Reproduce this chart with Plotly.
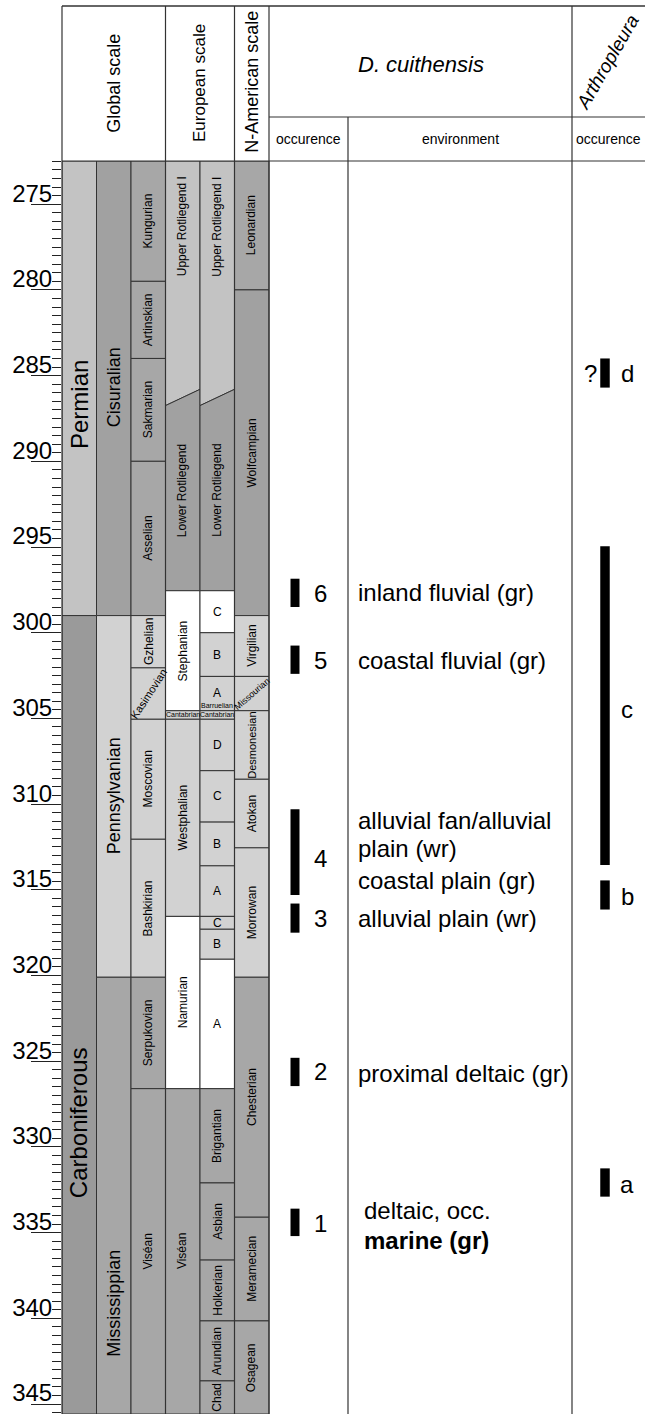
import plotly.graph_objects as go

FONT = "Liberation Sans, Arial, Helvetica, sans-serif"
LINE = "#333333"

# ---------------- data (ages in Ma) ----------------
TOP_MA = 272.48
BOT_MA = 345.58
tick_vals = [275, 280, 285, 290, 295, 300, 305, 310, 315, 320, 325, 330, 335, 340, 345]
tick_text = [str(v) for v in tick_vals]

# Global scale
period_names = ["Permian", "Carboniferous"]
period_base = [299.0, BOT_MA]
epoch_names = ["Cisuralian", "Pennsylvanian", "Mississippian"]
epoch_base = [299.0, 320.1, BOT_MA]
stage_names = ["Kungurian", "Artinskian", "Sakmarian", "Asselian", "Gzhelian",
               "Kasimovian", "Moscovian", "Bashkirian", "Serpukovian", "Viséan"]
stage_base = [279.5, 284.0, 290.0, 299.0, 302.05, 305.05, 312.05, 320.1, 326.6, BOT_MA]

# European scale (Rotliegend boundary is oblique: left / right ages)
rotl_left = 286.75
rotl_right = 285.8
lower_rotl_base = 297.55
euro1_names = ["Stephanian", "Cantabrian", "Westphalian", "Namurian", "Viséan"]
euro1_base = [304.55, 305.05, 316.55, 326.6, BOT_MA]
euro2_names = ["C", "B", "A", "Cantabrian", "D", "C", "B", "A", "C", "B", "A",
               "Brigantian", "Asbian", "Holkerian", "Arundian", "Chad"]
euro2_base = [300.0, 302.55, 304.55, 305.05, 308.05, 311.05, 313.6, 316.55, 317.3,
              319.05, 326.6, 332.1, 336.6, 340.15, 343.65, BOT_MA]

# N-American scale
namer_names = ["Leonardian", "Wolfcampian", "Virgilian", "Missourian", "Desmonesian",
               "Atokan", "Morrowan", "Chesterian", "Meramecian", "Osagean"]
namer_base = [280.0, 299.0, 302.55, 304.55, 308.55, 312.55, 320.1, 334.1, 340.15, BOT_MA]

# D. cuithensis occurrences
dc_labels = ["6", "5", "4", "3", "2", "1"]
dc_top = [296.85, 300.75, 310.3, 315.8, 324.8, 333.6]
dc_base = [298.5, 302.4, 315.3, 317.5, 326.45, 335.2]
dc_label_age = [297.7, 301.6, 313.2, 316.65, 325.6, 334.45]
env_texts = ["inland fluvial (gr)", "coastal fluvial (gr)", "alluvial fan/alluvial",
             "plain (wr)", "coastal plain (gr)", "alluvial plain (wr)",
             "proximal deltaic (gr)", "deltaic, occ.", "<b>marine (gr)</b>"]
env_age = [297.68, 301.6, 310.93, 312.6, 314.45, 316.66, 325.7, 333.7, 335.45]

# Arthropleura occurrences
ar_labels = ["d", "c", "b", "a"]
ar_top = [284.0, 294.95, 314.45, 331.25]
ar_base = [285.7, 313.55, 316.15, 332.9]
ar_label_age = [284.85, 304.5, 315.4, 332.2]

# ---------------- styles ----------------
C_PERM = "#c3c3c3"
C_MED = "#a7a7a7"
C_DARK = "#a1a1a1"
C_CARB = "#9a9a9a"
C_LIGHT = "#d2d2d2"
C_WHITE = "#ffffff"

period_fill = [C_PERM, C_CARB]
epoch_fill = [C_DARK, C_LIGHT, C_MED]
stage_fill = [C_MED, C_MED, C_MED, C_MED, C_LIGHT, C_LIGHT, C_LIGHT, C_LIGHT, C_MED, C_MED]
euro1_fill = [C_WHITE, C_LIGHT, C_LIGHT, C_WHITE, C_MED]
euro2_fill = [C_WHITE, C_LIGHT, C_LIGHT, C_LIGHT, C_LIGHT, C_LIGHT, C_LIGHT, C_LIGHT,
              C_LIGHT, C_LIGHT, C_WHITE, C_MED, C_MED, C_MED, C_MED, C_MED]
namer_fill = [C_MED, C_DARK, C_LIGHT, C_LIGHT, C_LIGHT, C_LIGHT, C_LIGHT, C_MED, C_MED, C_MED]

# column edges (px == x data units)
XC = [62, 96.5, 131, 165.5, 200, 234.5, 269]
X_OCC_R = 348
X_ENV_R = 572
X_RIGHT = 645

W, H = 645, 1414
MT = 161
PH = H - MT


def hy(px):
    return 1 + (MT - px) / PH


def hx(px):
    return (px - 62) / (X_RIGHT - 62)


shapes = []
annots = []

# special label styles: name -> (angle, size)
horiz12 = {"A", "B", "C", "D"}
special = {"Cantabrian": (0, 7), "Kasimovian": (-57, 11), "Missourian": (-41, 9),
           "Desmonesian": (-90, 11)}


def add_label(text, x, y, angle=-90, size=12):
    annots.append(dict(x=x, y=y, xref="x", yref="y", text=text, showarrow=False,
                       textangle=angle, font=dict(family=FONT, size=size, color="black"),
                       xanchor="center", yanchor="middle"))


def column(names, bases, fills, x0, x1, top=TOP_MA, size=12, overrides=None):
    prev = top
    for i, (n, b) in enumerate(zip(names, bases)):
        shapes.append(dict(type="rect", xref="x", yref="y", x0=x0, x1=x1, y0=prev, y1=b,
                           fillcolor=fills[i], line=dict(color=LINE, width=1), layer="below"))
        if n in horiz12:
            ang, sz = 0, 12
        elif n in special:
            ang, sz = special[n]
        else:
            ang, sz = -90, size
        ymid = (prev + b) / 2
        if overrides and i in overrides:
            ymid = overrides[i]
        add_label(n, (x0 + x1) / 2, ymid, ang, sz)
        prev = b


column(period_names, period_base, period_fill, XC[0], XC[1], size=24,
       overrides={0: 286.7, 1: 328.6})
column(epoch_names, epoch_base, epoch_fill, XC[1], XC[2], size=18,
       overrides={0: 285.7, 1: 309.5, 2: 339.1})
column(stage_names, stage_base, stage_fill, XC[2], XC[3])
column(namer_names, namer_base, namer_fill, XC[5], XC[6])

# European scale: oblique Rotliegend boundary
for (x0, x1) in [(XC[3], XC[4]), (XC[4], XC[5])]:
    shapes.append(dict(type="path", xref="x", yref="y",
                       path=f"M {x0},{TOP_MA} L {x1},{TOP_MA} L {x1},{rotl_right} L {x0},{rotl_left} Z",
                       fillcolor=C_PERM, line=dict(color=LINE, width=1), layer="below"))
    shapes.append(dict(type="path", xref="x", yref="y",
                       path=f"M {x0},{rotl_left} L {x1},{rotl_right} L {x1},{lower_rotl_base} L {x0},{lower_rotl_base} Z",
                       fillcolor=C_DARK, line=dict(color=LINE, width=1), layer="below"))
    add_label("Upper Rotliegend I", (x0 + x1) / 2, 276.3)
    add_label("Lower Rotliegend", (x0 + x1) / 2, 291.7)

column(euro1_names, euro1_base, euro1_fill, XC[3], XC[4], top=lower_rotl_base)
column(euro2_names, euro2_base, euro2_fill, XC[4], XC[5], top=lower_rotl_base,
       overrides={2: 303.5})
add_label("Barruelian", (XC[4] + XC[5]) / 2, 304.25, 0, 7)

# body vertical lines
for xv in [X_OCC_R, X_ENV_R]:
    shapes.append(dict(type="line", xref="paper", yref="paper", x0=hx(xv), x1=hx(xv),
                       y0=0, y1=hy(117) if xv == X_OCC_R else hy(6),
                       line=dict(color=LINE, width=1.2)))
# header lines
for xv in [XC[0], XC[3], XC[5], XC[6]]:
    shapes.append(dict(type="line", xref="paper", yref="paper", x0=hx(xv), x1=hx(xv),
                       y0=0, y1=hy(6), line=dict(color=LINE, width=1.2)))
shapes.append(dict(type="line", xref="paper", yref="paper", x0=hx(XC[0]), x1=1,
                   y0=hy(6), y1=hy(6), line=dict(color=LINE, width=1.5)))
shapes.append(dict(type="line", xref="paper", yref="paper", x0=hx(XC[6]), x1=1,
                   y0=hy(117), y1=hy(117), line=dict(color=LINE, width=1.2)))
shapes.append(dict(type="line", xref="paper", yref="paper", x0=hx(XC[0]), x1=1,
                   y0=1, y1=1, line=dict(color=LINE, width=1.2)))


def head(text, xpx, ypx, size, angle=0):
    annots.append(dict(x=hx(xpx), y=hy(ypx), xref="paper", yref="paper", text=text,
                       showarrow=False, textangle=angle,
                       font=dict(family=FONT, size=size, color="black"),
                       xanchor="center", yanchor="middle"))


head("Global scale", (XC[0] + XC[3]) / 2, 83, 18, -90)
head("European scale", (XC[3] + XC[5]) / 2, 83, 17, -90)
head("N-American scale", (XC[5] + XC[6]) / 2, 82, 18, -90)
head("<i>D. cuithensis</i>", (XC[6] + X_ENV_R) / 2, 65, 22)
head("<i>Arthropleura</i>", 608, 62, 19, -60)
head("occurence", (XC[6] + X_OCC_R) / 2, 139, 14)
head("environment", (X_OCC_R + X_ENV_R) / 2, 139, 14)
head("occurence", (X_ENV_R + X_RIGHT) / 2, 139, 14)

# occurrence bars
fig = go.Figure()
fig.add_trace(go.Bar(x=[295] * len(dc_top), base=dc_top,
                     y=[b - t for t, b in zip(dc_top, dc_base)],
                     width=9, marker=dict(color="black", line=dict(width=0)),
                     hoverinfo="skip", showlegend=False))
fig.add_trace(go.Bar(x=[605] * len(ar_top), base=ar_top,
                     y=[b - t for t, b in zip(ar_top, ar_base)],
                     width=9.5, marker=dict(color="black", line=dict(width=0)),
                     hoverinfo="skip", showlegend=False))

for lab, a in zip(dc_labels, dc_label_age):
    add_label(lab, 320, a, 0, 24)
for lab, a in zip(ar_labels, ar_label_age):
    add_label(lab, 627, a, 0, 24)
add_label("?", 590, ar_label_age[0], 0, 24)
for i, (t, a) in enumerate(zip(env_texts, env_age)):
    xl = 362 if i >= 7 else 356
    annots.append(dict(x=xl, y=a, xref="x", yref="y", text=t, showarrow=False,
                       xanchor="left", yanchor="middle",
                       font=dict(family=FONT, size=24, color="black")))

fig.update_layout(
    width=W, height=H, margin=dict(l=62, r=0, t=MT, b=0, pad=0),
    paper_bgcolor="white", plot_bgcolor="white",
    barmode="overlay", shapes=shapes, annotations=annots, showlegend=False,
    xaxis=dict(range=[62, X_RIGHT], visible=False, fixedrange=True),
    yaxis=dict(range=[BOT_MA, TOP_MA], tickmode="array", tickvals=tick_vals,
               ticktext=tick_text, ticks="outside", ticklen=30, tickwidth=1,
               tickcolor="#222222", showgrid=False, zeroline=False, showline=False,
               tickfont=dict(family=FONT, size=24, color="black"),
               ticklabelstandoff=-26, ticklabelshift=11,
               minor=dict(ticks="outside", ticklen=9, tickwidth=1, tickcolor="#222222",
                          dtick=0.5, tick0=0, showgrid=False),
               fixedrange=True),
)

fig.write_html("out.html", config={"displayModeBar": False},
               post_script="document.body.style.margin='0';document.body.style.overflow='hidden';")
